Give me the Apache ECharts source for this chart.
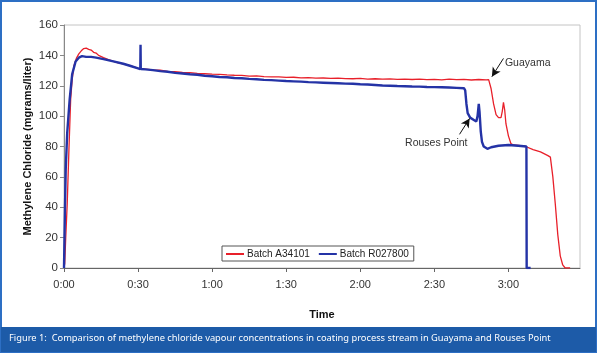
<!DOCTYPE html>
<html lang="en">
<head>
    <meta charset="UTF-8">
    <title>Methylene chloride</title>
    <script src="https://cdn.jsdelivr.net/npm/echarts@6.0.0/dist/echarts.min.js"></script>
    <style>
        body { margin: 0; background: #fff; }
        #main { width: 600px; height: 354px; }
    </style>
</head>
<body>
    <div id="main"></div>
    <script>
        // minutes since start
        var redTime = [0, 0.3, 0.7, 1.3, 2, 2.7, 3.3, 4, 5, 6, 7, 8, 9, 10, 11, 12, 13, 14, 16, 18, 20, 22, 24, 26, 28,
            30, 33, 36, 39, 42, 45, 48, 51, 54, 57, 60, 63, 66, 69, 72, 75, 78, 81, 84, 87, 90, 93, 96, 99, 102, 105,
            108, 111, 114, 117, 120, 123, 126, 129, 132, 135, 138, 141, 144, 147, 150, 153, 156, 159, 162, 165, 168, 171, 172,
            172.5, 173, 174, 175, 176, 177, 177.5, 178, 178.5, 179, 180, 181, 182, 185, 187, 190, 193, 196, 197,
            198, 199, 200, 201, 202, 203, 205];
        var redValue = [0, 3, 20, 42, 78, 111, 124, 133, 138, 141, 143, 144.5, 144.8, 144, 143.5, 142, 141.5, 140, 138.5, 137.2, 136, 135, 134.4, 133.5, 132.6,
            131.5, 131, 130.5, 130.2, 129.5, 129.3, 128.8, 128.6, 128.2, 127.9, 127.6, 127.5, 127.1, 126.9, 126.8, 126.4, 126.5, 126, 125.9, 125.9, 125.5, 125.6, 125.2, 125.4, 125, 125.1,
            124.8, 125, 124.7, 124.6, 124.8, 124.4, 124.6, 124.3, 124.5, 124.2, 124.4, 124.1, 124.3, 124, 124.2, 123.9, 124.3, 124, 124.2, 123.8, 124.1, 123.9, 124,
            123, 118, 108, 101, 99, 99, 103, 109, 104, 95, 87, 82, 81, 80.5, 80, 78, 76.5, 74, 73,
            60, 42, 22, 8, 2, 0, 0];

        var blueTime = [0, 0.2, 0.4, 0.7, 1.3, 2.3, 3.3, 4.7, 6, 7.3, 9, 11, 13, 16, 20, 24, 27, 30, 30.9, 31, 31.1,
            33, 36, 39, 42, 45, 48, 51, 54, 57, 60, 63, 66, 69, 72, 75, 78, 81, 84, 87, 90, 93, 96, 99, 102, 105,
            108, 111, 114, 117, 120, 123, 126, 129, 132, 135, 138, 141, 144, 147, 150, 153, 156, 159, 162,
            162.5, 163, 163.5, 164.5, 166, 167, 167.5, 168, 168.3, 168.8, 169.3, 170, 171.5, 173, 176, 180, 184, 187.3,
            187.4, 189];
        var blueValue = [0, 20, 40, 65, 89, 111, 127.5, 136, 138.5, 139.5, 139, 139, 138.5, 137.5, 136, 134.5, 133, 131.5, 131, 147, 131,
            130.8, 130.3, 129.6, 129.2, 128.5, 128.1, 127.6, 127.2, 126.6, 126.3, 125.8, 125.6, 125.1, 124.9, 124.5, 124.3, 123.9, 123.7, 123.4, 123.1, 122.9, 122.7, 122.4, 122.2, 122,
            121.8, 121.6, 121.4, 121.3, 121, 120.8, 120.5, 120.2, 120, 119.8, 119.7, 119.5, 119.4, 119.2, 119.1, 119, 118.8, 118.6, 118.4,
            117, 108, 102, 99, 97.5, 96.5, 100, 108, 103, 90, 83, 80, 78.5, 79.5, 80.5, 81, 80.5, 80,
            0, 0];

        var seriesNames = ['Batch A34101', 'Batch R027800'];
        var yTicks = [0, 20, 40, 60, 80, 100, 120, 140, 160];

        function zip(t, v) {
            var out = [];
            for (var i = 0; i < t.length; i++) out.push([t[i], v[i]]);
            return out;
        }

        function fmtTime(m) {
            var h = Math.floor(m / 60);
            var mm = Math.round(m % 60);
            return h + ':' + (mm < 10 ? '0' + mm : mm);
        }

        var chartDom = document.getElementById('main');
        var myChart = echarts.init(chartDom);
        var font = 'Liberation Sans';

        var option = {
            animation: false,
            backgroundColor: '#fff',
            graphic: [
                {
                    type: 'rect', shape: { x: 1, y: 1, width: 595, height: 351 },
                    style: { fill: 'none', stroke: '#2d6fc4', lineWidth: 2 }, z: 0
                },
                {
                    type: 'rect', shape: { x: 1, y: 327, width: 595, height: 25 },
                    style: { fill: '#1d5ba8' }, z: 0
                },
                {
                    type: 'text', left: 9, top: 334,
                    style: {
                        text: 'Figure 1:  Comparison of methylene chloride vapour concentrations in coating process stream in Guayama and Rouses Point',
                        fill: '#fff', font: '9.3px "Noto Sans"'
                    }, z: 5
                }
            ],
            grid: {
                left: 64, right: 20, top: 25, bottom: 86,
                show: true, borderColor: '#c4c4c4', borderWidth: 1
            },
            legend: {
                data: seriesNames,
                left: 222, top: 246,
                orient: 'horizontal',
                backgroundColor: '#fff',
                borderColor: '#555', borderWidth: 1, borderRadius: 0,
                padding: [3, 5, 2, 4],
                itemGap: 9, itemWidth: 18, itemHeight: 2,
                icon: 'rect',
                textStyle: { fontFamily: font, fontSize: 10, color: '#222', padding: [0, 0, 0, -2] }
            },
            xAxis: {
                type: 'value',
                min: 0, max: 209, interval: 30,
                name: 'Time', nameLocation: 'middle', nameGap: 41,
                nameTextStyle: { fontFamily: font, fontSize: 11, fontWeight: 'bold', color: '#111' },
                axisLine: { lineStyle: { color: '#666' } },
                axisTick: { show: true, length: 4, lineStyle: { color: '#666' } },
                axisLabel: {
                    showMaxLabel: false, margin: 11,
                    fontFamily: font, fontSize: 11, color: '#333',
                    formatter: fmtTime
                },
                splitLine: { show: false }
            },
            yAxis: {
                type: 'value',
                min: yTicks[0], max: yTicks[yTicks.length - 1], interval: 20,
                name: 'Methylene Chloride (mgrams/liter)', nameLocation: 'middle', nameGap: 31,
                nameMoveOverlap: false,
                nameTextStyle: { fontFamily: font, fontSize: 11, fontWeight: 'bold', color: '#111' },
                axisLine: { show: true, lineStyle: { color: '#888' } },
                axisTick: { show: true, length: 4, lineStyle: { color: '#888' } },
                axisLabel: { margin: 6, fontFamily: font, fontSize: 11.5, color: '#333' },
                splitLine: { show: false }
            },
            series: [
                {
                    name: seriesNames[0],
                    type: 'line',
                    data: zip(redTime, redValue),
                    showSymbol: false, symbol: 'none',
                    color: '#e8202a',
                    lineStyle: { width: 1.3, color: '#e8202a' },
                    z: 3,
                    markLine: {
                        silent: true, symbol: ['none', 'arrow'], symbolSize: [7, 9],
                        lineStyle: { color: '#111', width: 1, type: 'solid' },
                        label: { show: false },
                        data: [[{ coord: [178, 138] }, { coord: [173.3, 126] }]]
                    },
                    markPoint: {
                        silent: true, symbol: 'circle', symbolSize: 0,
                        label: {
                            show: true, position: 'right', distance: 0,
                            fontFamily: font, fontSize: 10.5, color: '#333',
                            formatter: 'Guayama'
                        },
                        data: [{ coord: [178.6, 135] }]
                    }
                },
                {
                    name: seriesNames[1],
                    type: 'line',
                    data: zip(blueTime, blueValue),
                    showSymbol: false, symbol: 'none',
                    color: '#2433a6',
                    lineStyle: { width: 2.4, color: '#2433a6' },
                    z: 4,
                    markLine: {
                        silent: true, symbol: ['none', 'arrow'], symbolSize: [7, 9],
                        lineStyle: { color: '#111', width: 1, type: 'solid' },
                        label: { show: false },
                        data: [[{ coord: [160.2, 88] }, { coord: [164.3, 98.5] }]]
                    },
                    markPoint: {
                        silent: true, symbol: 'circle', symbolSize: 0,
                        label: {
                            show: true, position: 'inside',
                            fontFamily: font, fontSize: 10.5, color: '#333',
                            formatter: 'Rouses Point'
                        },
                        data: [{ coord: [150.8, 82] }]
                    }
                }
            ]
        };

        myChart.setOption(option);
        window.addEventListener('resize', function () {
            myChart.resize();
        });
    </script>
</body>
</html>
